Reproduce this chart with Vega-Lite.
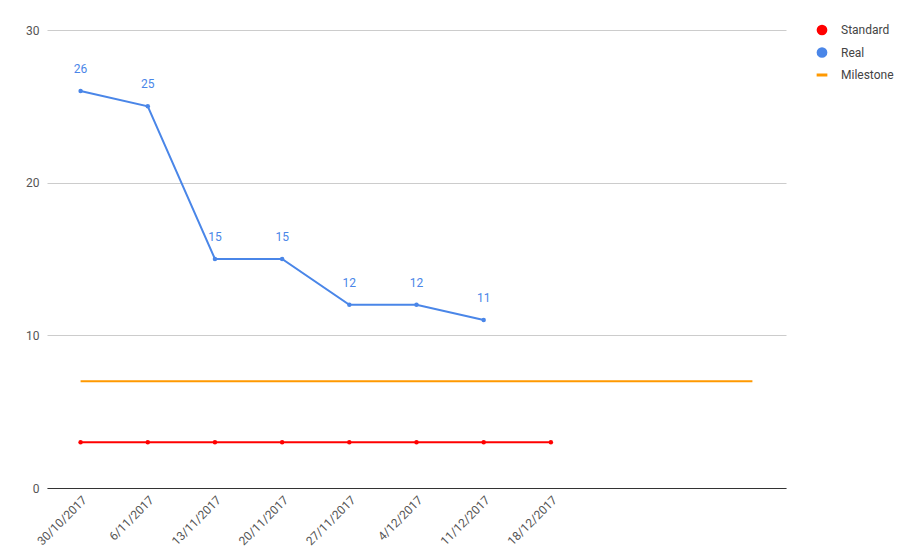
{
  "$schema": "https://vega.github.io/schema/vega-lite/v6.json",
  "width": 739,
  "height": 458,
  "autosize": "none",
  "padding": {"left": 47, "top": 30, "right": 112, "bottom": 65},
  "background": "white",
  "config": {
    "font": "Roboto",
    "view": {"stroke": null},
    "axis": {"labelFont": "Roboto", "labelColor": "#555555", "labelFontSize": 12},
    "legend": {
      "title": null,
      "orient": "none",
      "legendX": 769,
      "legendY": -6,
      "symbolSize": 115,
      "symbolStrokeWidth": 0,
      "labelFontSize": 12,
      "labelColor": "#444444",
      "labelFont": "Roboto",
      "labelOffset": 13,
      "rowPadding": 10.5,
      "symbolOpacity": 1
    }
  },
  "data": {
    "values": [
      {"date": "30/10/2017", "series": "Standard", "value": 3},
      {"date": "6/11/2017", "series": "Standard", "value": 3},
      {"date": "13/11/2017", "series": "Standard", "value": 3},
      {"date": "20/11/2017", "series": "Standard", "value": 3},
      {"date": "27/11/2017", "series": "Standard", "value": 3},
      {"date": "4/12/2017", "series": "Standard", "value": 3},
      {"date": "11/12/2017", "series": "Standard", "value": 3},
      {"date": "18/12/2017", "series": "Standard", "value": 3},
      {"date": "30/10/2017", "series": "Real", "value": 26},
      {"date": "6/11/2017", "series": "Real", "value": 25},
      {"date": "13/11/2017", "series": "Real", "value": 15},
      {"date": "20/11/2017", "series": "Real", "value": 15},
      {"date": "27/11/2017", "series": "Real", "value": 12},
      {"date": "4/12/2017", "series": "Real", "value": 12},
      {"date": "11/12/2017", "series": "Real", "value": 11},
      {"date": "30/10/2017", "series": "Milestone", "value": 7},
      {"date": "6/11/2017", "series": "Milestone", "value": 7},
      {"date": "13/11/2017", "series": "Milestone", "value": 7},
      {"date": "20/11/2017", "series": "Milestone", "value": 7},
      {"date": "27/11/2017", "series": "Milestone", "value": 7},
      {"date": "4/12/2017", "series": "Milestone", "value": 7},
      {"date": "11/12/2017", "series": "Milestone", "value": 7},
      {"date": "18/12/2017", "series": "Milestone", "value": 7},
      {"date": "25/12/2017", "series": "Milestone", "value": 7},
      {"date": "1/1/2018", "series": "Milestone", "value": 7},
      {"date": "8/1/2018", "series": "Milestone", "value": 7}
    ]
  },
  "encoding": {
    "x": {
      "field": "date",
      "type": "ordinal",
      "sort": null,
      "scale": {
        "type": "point",
        "padding": 0.5,
        "domain": ["30/10/2017", "6/11/2017", "13/11/2017", "20/11/2017", "27/11/2017", "4/12/2017", "11/12/2017", "18/12/2017", "25/12/2017", "1/1/2018", "8/1/2018"]
      },
      "axis": {
        "title": null,
        "labelAngle": -45,
        "labelFontSize": 12,
        "labelExpr": "indexof(['25/12/2017','1/1/2018','8/1/2018'], datum.label) >= 0 ? '' : datum.label",
        "ticks": false,
        "domainColor": "#333333",
        "domainWidth": 1,
        "grid": false,
        "labelPadding": 6
      }
    },
    "y": {
      "field": "value",
      "type": "quantitative",
      "scale": {"domain": [0, 30]},
      "axis": {
        "title": null,
        "values": [0, 10, 20, 30],
        "domain": false,
        "ticks": false,
        "gridColor": "#cccccc",
        "labelPadding": 8
      }
    }
  },
  "layer": [
    {
      "mark": {"type": "line", "strokeWidth": 2},
      "encoding": {
        "color": {
          "field": "series",
          "type": "nominal",
          "scale": {"domain": ["Standard", "Real", "Milestone"], "range": ["#ff0000", "#4a86e8", "#ff9900"]}
        }
      }
    },
    {
      "transform": [{"filter": "datum.series !== 'Milestone'"}],
      "mark": {"type": "point", "filled": true, "size": 20, "opacity": 1},
      "encoding": {
        "color": {
          "field": "series",
          "type": "nominal",
          "scale": {"domain": ["Standard", "Real", "Milestone"], "range": ["#ff0000", "#4a86e8", "#ff9900"]}
        },
        "shape": {
          "field": "series",
          "type": "nominal",
          "scale": {"domain": ["Standard", "Real", "Milestone"], "range": ["circle", "circle", "M-1,-0.28H1V0.28H-1Z"]}
        }
      }
    },
    {
      "transform": [{"filter": "datum.series === 'Real'"}],
      "mark": {"type": "text", "dy": -22, "fontSize": 12, "color": "#4a86e8", "font": "Roboto"},
      "encoding": {"text": {"field": "value", "type": "quantitative"}}
    }
  ]
}
